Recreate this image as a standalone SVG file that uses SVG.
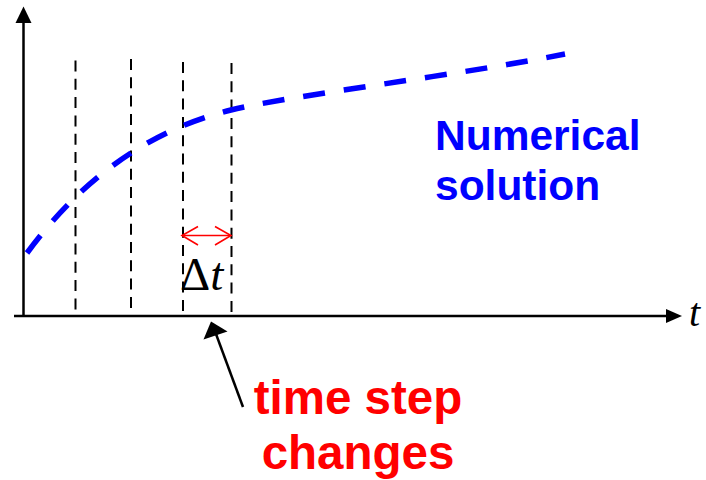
<svg xmlns="http://www.w3.org/2000/svg" width="706" height="480" viewBox="0 0 706 480">
<style>
.axis{stroke:#000;stroke-width:2.5;fill:none}
.head{fill:#000;stroke:none}
.grid{stroke:#000;stroke-width:2;stroke-dasharray:11 7.3;fill:none}
.curve{stroke:#0000FF;stroke-width:5.5;stroke-dasharray:22 19;fill:none}
.red{stroke:#FF0000;stroke-width:1.6;fill:none}
.lblb{font-family:"Liberation Sans",Arial,sans-serif;font-weight:bold;fill:#0000FF;font-size:42.5px}
.lblr{font-family:"Liberation Sans",Arial,sans-serif;font-weight:bold;fill:#FF0000;font-size:47.5px}
.serif{font-family:"Liberation Serif","Times New Roman",serif;fill:#000}
</style>
<rect width="706" height="480" fill="#fff"/>
<g id="axes">
<line class="axis" x1="23.5" y1="317" x2="23.5" y2="21"/>
<polygon class="head" points="23.5,6.5 15.5,23 31.5,23"/>
<line class="axis" x1="14" y1="316" x2="668" y2="316"/>
<polygon class="head" points="682,316 666,309 666,323"/>
<text class="serif" x="689" y="326" font-size="40" font-style="italic">t</text>
</g>
<g id="gridlines">
<line class="grid" x1="75.5" y1="60.5" x2="75.5" y2="316"/>
<line class="grid" x1="131" y1="59" x2="131" y2="316"/>
<line class="grid" x1="183" y1="62" x2="183" y2="316"/>
<line class="grid" x1="231.5" y1="63" x2="231.5" y2="316"/>
</g>
<g id="numerical-solution">
<path class="curve" d="M27,253 Q110,140 231,110 C290,95.4 460,75 565,54"/>
<text class="lblb" x="435" y="150">Numerical</text>
<text class="lblb" x="435" y="200">solution</text>
</g>
<g id="delta-t">
<line class="red" x1="182" y1="235.5" x2="231" y2="235.5"/>
<polyline class="red" points="198,226.5 182,235.5 198,245"/>
<polyline class="red" points="215,226.5 231,235.5 215,245"/>
<text class="serif" x="180" y="290" font-size="47">Δ<tspan font-style="italic">t</tspan></text>
</g>
<g id="connectors">
<line class="axis" x1="243" y1="407" x2="216" y2="334"/>
<polygon class="head" points="211,321.5 203.5,339.5 227.5,331.5"/>
</g>
<g id="time-step-changes">
<text class="lblr" x="358" y="414" text-anchor="middle">time step</text>
<text class="lblr" x="358" y="469" text-anchor="middle">changes</text>
</g>
</svg>
